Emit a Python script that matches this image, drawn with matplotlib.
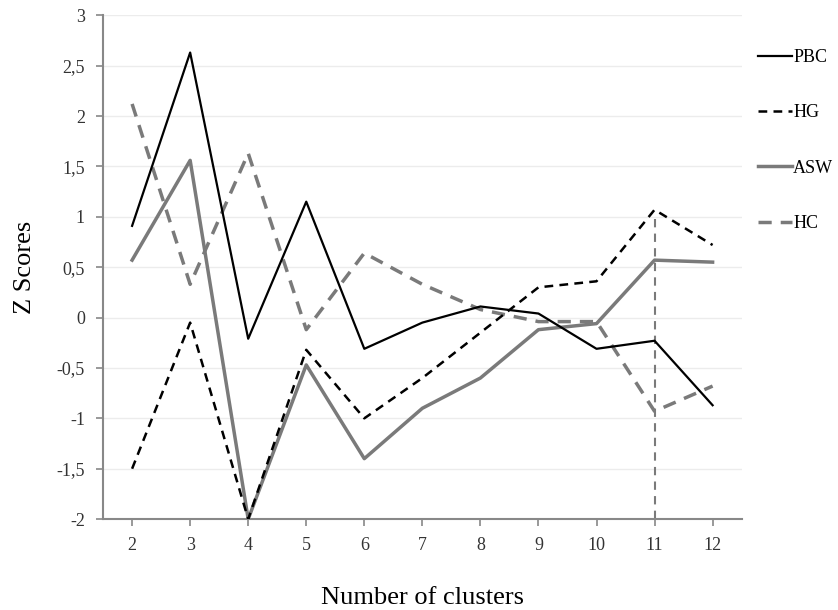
import matplotlib
matplotlib.use('Agg')
import matplotlib.pyplot as plt
from matplotlib.lines import Line2D

plt.rcParams['font.family'] = ['Liberation Serif', 'DejaVu Serif']

clusters = [2, 3, 4, 5, 6, 7, 8, 9, 10, 11, 12]
pbc = [0.91, 2.63, -0.21, 1.15, -0.31, -0.05, 0.11, 0.04, -0.31, -0.23, -0.87]
hg = [-1.5, -0.05, -2.0, -0.32, -1.0, -0.6, -0.15, 0.3, 0.36, 1.07, 0.72]
asw = [0.57, 1.56, -2.0, -0.47, -1.4, -0.9, -0.6, -0.12, -0.06, 0.57, 0.55]
hc = [2.12, 0.33, 1.63, -0.12, 0.64, 0.33, 0.08, -0.04, -0.04, -0.93, -0.68]
yticks = [-2, -1.5, -1, -0.5, 0, 0.5, 1, 1.5, 2, 2.5, 3]
chosen_k = 11

fig = plt.figure(figsize=(8.38, 6.10), dpi=100)
ax = fig.add_axes([0.123, 0.149, 0.762, 0.826])

gray = '#7a7a7a'
for y in yticks:
    ax.axhline(y, color='#ececec', lw=1, zorder=0)

ax.vlines(chosen_k, -2, 1.03, colors=gray, linestyles=(0, (4, 3)), lw=1.5, zorder=1)

ax.plot(clusters, pbc, color='black', lw=1.6, label='PBC', zorder=3)
ax.plot(clusters, hg, color='black', lw=1.8, ls=(0, (3.5, 2.5)), label='HG', zorder=3)
ax.plot(clusters, asw, color=gray, lw=2.5, label='ASW', zorder=2)
ax.plot(clusters, hc, color=gray, lw=2.5, ls=(0, (3.8, 2.6)), label='HC', zorder=2)

ax.set_xlim(1.5, 12.5)
ax.set_ylim(-2, 3)
ax.set_xticks(clusters)
ax.set_yticks(yticks)
ax.set_yticklabels([('%g' % v).replace('.', ',') for v in yticks])
ax.tick_params(axis='both', colors='#888888', labelcolor='#333333', labelsize=13, length=5, width=1.2)
ax.tick_params(axis='x', pad=8)
ax.tick_params(axis='y', pad=8)
for s in ['top', 'right']:
    ax.spines[s].set_visible(False)
for s in ['left', 'bottom']:
    ax.spines[s].set_color('#888888')
    ax.spines[s].set_linewidth(1.5)

ax.set_xlabel('Number of clusters', fontsize=19, labelpad=24)
ax.set_ylabel('Z Scores', fontsize=19, labelpad=15)

handles = [
    Line2D([], [], color='black', lw=1.6),
    Line2D([], [], color='black', lw=1.8, ls=(0, (3.5, 2.5))),
    Line2D([], [], color=gray, lw=2.5),
    Line2D([], [], color=gray, lw=2.5, ls=(0, (3.8, 2.6))),
]
fig.legend(handles, ['PBC', 'HG', 'ASW', 'HC'], loc='upper left',
           bbox_to_anchor=(0.885, 0.946), frameon=False, fontsize=13,
           handlelength=1.9, handletextpad=0.05, labelspacing=2.12)

fig.savefig('out.png', dpi=100)
